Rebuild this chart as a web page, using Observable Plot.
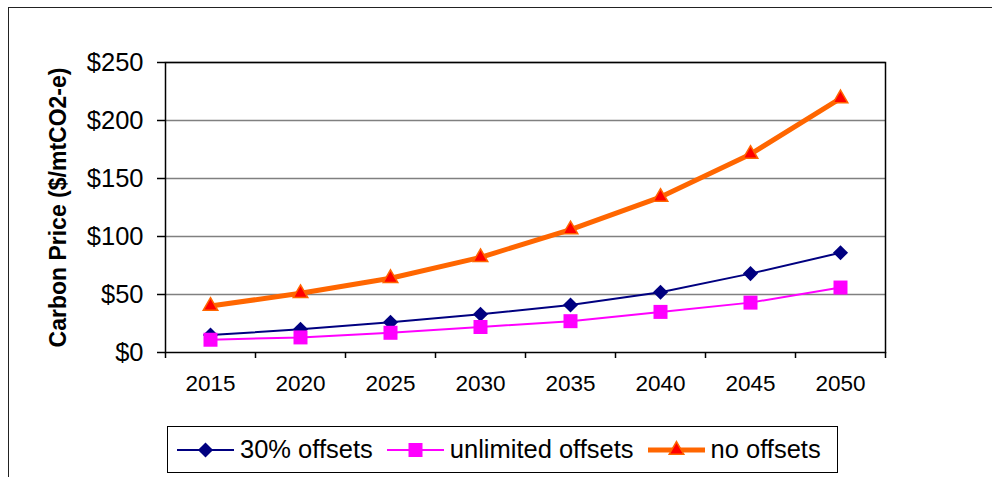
<!DOCTYPE html>
<html><head><meta charset="utf-8">
<script src="https://cdn.jsdelivr.net/npm/d3@7"></script>
<script src="https://cdn.jsdelivr.net/npm/@observablehq/plot@0.6"></script>
<style>
body{margin:0;background:#fff;font-family:"Liberation Sans",Arial,sans-serif;}
#wrap{position:relative;width:992px;height:477px;overflow:hidden;}
#outer{position:absolute;left:8px;top:7px;right:-10px;bottom:-10px;border-top:1.5px solid #222;border-left:1.5px solid #222;}
#chart{position:absolute;left:0;top:0;}
#legend{position:absolute;left:167px;top:426px;width:671px;height:47px;border:1.5px solid #000;box-sizing:border-box;display:flex;align-items:center;font-size:25.5px;color:#000;padding-left:9px;white-space:nowrap;}
#legend .item{display:flex;align-items:center;margin-right:14px;}
#legend svg{margin-right:6px;}
</style></head><body>
<div id="wrap"><div id="outer"></div><div id="chart"></div><div id="legend"></div></div>
<script>
const years = [2015, 2020, 2025, 2030, 2035, 2040, 2045, 2050];
const offsets30 = [15, 20, 26, 33, 41, 52, 68, 86];
const unlimited = [11, 13, 17, 22, 27, 35, 43, 56];
const noOffsets = [40, 51, 64, 82, 106, 134, 171, 219];
const yTicks = [0, 50, 100, 150, 200, 250];
const seriesNames = ["30% offsets", "unlimited offsets", "no offsets"];
const yTitle = "Carbon Price ($/mtCO2-e)";

const styles = [
  {line: "#000080", width: 2, symbol: "diamond2", r: 6.8, fill: "#000080", stroke: "none", sw: 0},
  {line: "#FF00FF", width: 2, symbol: "square", r: 7.9, fill: "#FF00FF", stroke: "none", sw: 0},
  {line: "#FF6600", width: 5, symbol: "triangle", r: 5.4, fill: "#FF0000", stroke: "#FF6600", sw: 1.5}
];
const seriesVals = [offsets30, unlimited, noOffsets];
const rows = (vals, s) => years.map((y, i) => ({year: y, value: vals[i], series: s}));
const edges = years.map(y => y - 2.5).concat([years[years.length - 1] + 2.5]);

const seriesMarks = seriesVals.flatMap((vals, i) => {
  const st = styles[i];
  const data = rows(vals, seriesNames[i]);
  return [
    Plot.line(data, {x: "year", y: "value", stroke: st.line, strokeWidth: st.width, strokeLinejoin: "round"}),
    Plot.dot(data, {x: "year", y: "value", symbol: st.symbol, r: st.r, fill: st.fill, stroke: st.stroke, strokeWidth: st.sw})
  ];
});

const chart = Plot.plot({
  width: 992, height: 420,
  marginLeft: 165, marginRight: 107, marginTop: 62, marginBottom: 68,
  style: {fontFamily: "Liberation Sans, Arial, sans-serif", background: "transparent", color: "#000", overflow: "visible"},
  x: {domain: [edges[0], edges[edges.length - 1]]},
  y: {domain: [0, 250]},
  marks: [
    Plot.ruleY(yTicks.filter(d => d > 0), {stroke: "#808080", strokeWidth: 1.5}),
    Plot.frame({stroke: "#000", strokeWidth: 1.5}),
    Plot.axisY(yTicks, {tickSize: 8, tickPadding: 14, tickFormat: d => "$" + d, fontSize: 25.5, strokeWidth: 1.5, label: null}),
    Plot.axisX(edges, {tickSize: 6, tickFormat: () => "", strokeWidth: 1.5, label: null}),
    Plot.axisX(years, {tickSize: 0, tickPadding: 23, tickFormat: d => String(d), fontSize: 22.5, label: null}),
    Plot.text([yTitle], {frameAnchor: "left", rotate: -90, dx: -107, fontSize: 23, fontWeight: "bold", textAnchor: "middle", fill: "#000"}),
    ...seriesMarks
  ]
});
document.getElementById("chart").appendChild(chart);

// legend
const legend = document.getElementById("legend");
seriesNames.forEach((name, i) => {
  const st = styles[i];
  const item = document.createElement("div");
  item.className = "item";
  const w = 57, h = 24;
  const svg = d3.create("svg").attr("width", w).attr("height", h);
  svg.append("line").attr("x1", 0).attr("x2", w).attr("y1", h / 2).attr("y2", h / 2)
    .attr("stroke", st.line).attr("stroke-width", st.width);
  const symMap = {diamond2: d3.symbolDiamond2, square: d3.symbolSquare, triangle: d3.symbolTriangle};
  svg.append("path").attr("transform", `translate(${w / 2},${h / 2})`)
    .attr("d", d3.symbol(symMap[st.symbol], Math.PI * st.r * st.r)())
    .attr("fill", st.fill).attr("stroke", st.stroke).attr("stroke-width", st.sw);
  item.appendChild(svg.node());
  const span = document.createElement("span");
  span.textContent = name;
  item.appendChild(span);
  legend.appendChild(item);
});
</script>
</body></html>
